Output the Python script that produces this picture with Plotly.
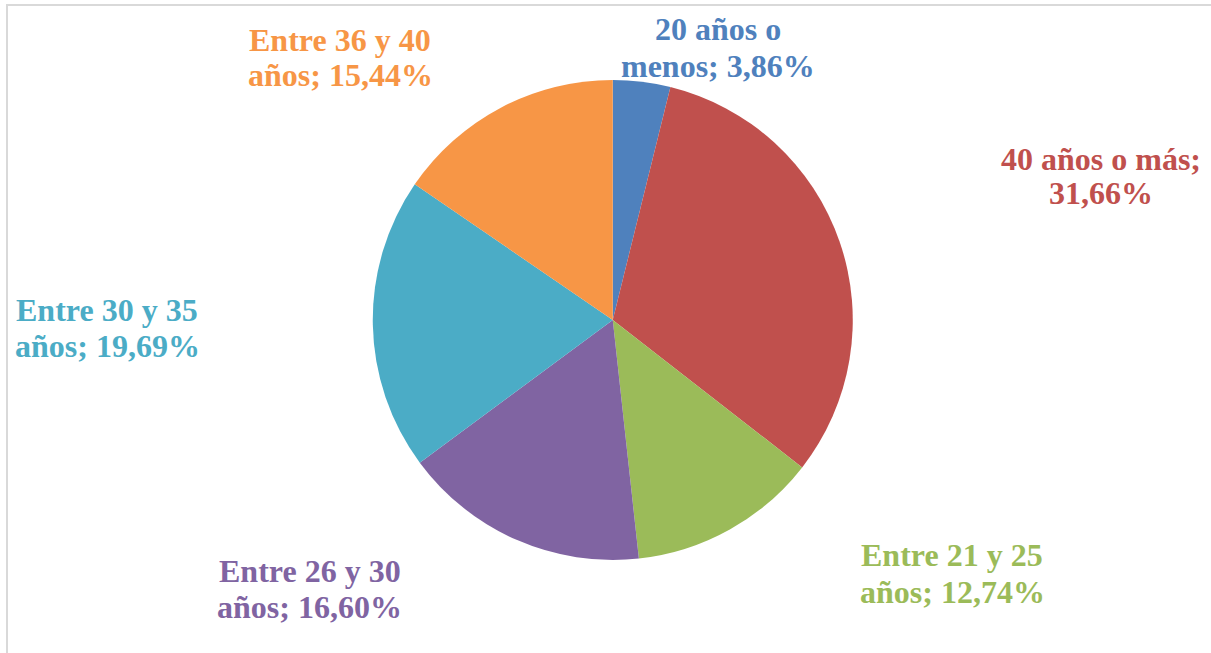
import plotly.graph_objects as go

labels = ["20 años o menos", "40 años o más", "Entre 21 y 25 años",
          "Entre 26 y 30 años", "Entre 30 y 35 años", "Entre 36 y 40 años"]
values = [3.86, 31.66, 12.74, 16.60, 19.69, 15.44]
label_lines = [("20 años o", "menos; 3,86%"), ("40 años o más;", "31,66%"),
               ("Entre 21 y 25", "años; 12,74%"), ("Entre 26 y 30", "años; 16,60%"),
               ("Entre 30 y 35", "años; 19,69%"), ("Entre 36 y 40", "años; 15,44%")]
colors = ["#4F81BD", "#C0504D", "#9BBB59", "#8064A2", "#4BACC6", "#F79646"]

W, H = 1211, 653
FS = 32
# label positions in pixels: (center x, baseline line 1, baseline line 2)
label_px = [(718, 39, 76), (1101, 169, 203), (952, 565, 602),
            (310, 581, 617), (107, 320, 356), (340, 50, 85)]

fig = go.Figure(go.Pie(
    labels=labels,
    values=values,
    sort=False,
    direction="clockwise",
    rotation=0,
    marker=dict(colors=colors, line=dict(width=0)),
    textinfo="none",
    hoverinfo="label+percent",
    showlegend=False,
    domain=dict(x=[0.1, 0.912], y=[1 - 560 / H, 1 - 80 / H]),
))

annotations = []
for lines, col, (px, b1, b2) in zip(label_lines, colors, label_px):
    for txt, base in zip(lines, (b1, b2)):
        annotations.append(dict(
            text="<b>" + txt + "</b>", x=px / W, y=1 - (base - 0.3 * FS) / H,
            xref="paper", yref="paper", showarrow=False,
            xanchor="center", yanchor="middle", align="center",
            font=dict(family="Liberation Serif", size=FS, color=col),
        ))

fig.update_layout(
    width=W, height=H,
    margin=dict(l=0, r=0, t=0, b=0, autoexpand=False),
    paper_bgcolor="white",
    separators=",.",
    font=dict(family="Liberation Serif", size=FS),
    annotations=annotations,
    shapes=[dict(type="rect", xref="paper", yref="paper",
                 x0=7 / W, x1=1.01, y0=-0.01, y1=1 - 5 / H,
                 line=dict(color="#D9D9D9", width=2), layer="below")],
)

fig.write_html("out.html", config={"displayModeBar": False},
               post_script="document.body.style.margin='0';")
